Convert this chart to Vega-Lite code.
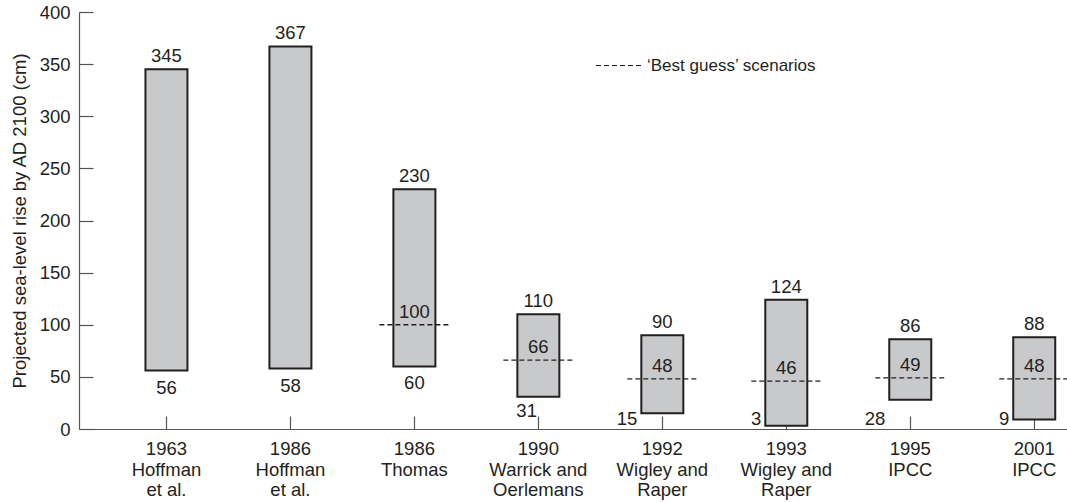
{
  "$schema": "https://vega.github.io/schema/vega-lite/v6.json",
  "width": 988,
  "height": 417,
  "autosize": {"type": "none"},
  "padding": {"left": 79, "top": 12, "right": 0, "bottom": 73},
  "background": "white",
  "config": {
    "view": {"stroke": null},
    "font": "Liberation Sans",
    "text": {"font": "Liberation Sans", "color": "#231f20"}
  },
  "data": {
    "values": [
      {"i": 1, "study": "1963|Hoffman|et al.", "lo": 56, "hi": 345, "best": null},
      {"i": 2, "study": "1986|Hoffman|et al.", "lo": 58, "hi": 367, "best": null},
      {"i": 3, "study": "1986|Thomas", "lo": 60, "hi": 230, "best": 100},
      {"i": 4, "study": "1990|Warrick and|Oerlemans", "lo": 31, "hi": 110, "best": 66},
      {"i": 5, "study": "1992|Wigley and|Raper", "lo": 15, "hi": 90, "best": 48},
      {"i": 6, "study": "1993|Wigley and|Raper", "lo": 3, "hi": 124, "best": 46},
      {"i": 7, "study": "1995|IPCC", "lo": 28, "hi": 86, "best": 49},
      {"i": 8, "study": "2001|IPCC", "lo": 9, "hi": 88, "best": 48}
    ]
  },
  "encoding": {
    "x": {
      "field": "i",
      "type": "quantitative",
      "scale": {"domain": [0.3349, 8.224], "nice": false, "zero": false},
      "axis": {
        "values": [1, 2, 3, 4, 5, 6, 7, 8],
        "labels": false,
        "title": null,
        "grid": false,
        "tickSize": -13,
        "tickColor": "#555555",
        "tickWidth": 1.2,
        "domainColor": "#555555",
        "domainWidth": 1.2
      }
    }
  },
  "layer": [
    {
      "mark": {"type": "bar", "orient": "vertical", "width": 42, "fill": "#c8c9cb", "stroke": "#231f20", "strokeWidth": 2},
      "encoding": {
        "y": {
          "field": "lo",
          "type": "quantitative",
          "scale": {"domain": [0, 400], "nice": false},
          "axis": {
            "values": [0, 50, 100, 150, 200, 250, 300, 350, 400],
            "grid": false,
            "tickSize": -14,
            "tickColor": "#555555",
            "tickWidth": 1.2,
            "domainColor": "#555555",
            "domainWidth": 1.2,
            "labelPadding": 23,
            "labelFlush": false,
            "labelFontSize": 18.5,
            "labelFont": "Liberation Sans",
            "labelColor": "#231f20",
            "title": "Projected sea-level rise by AD 2100 (cm)",
            "titleFont": "Liberation Sans",
            "titleFontSize": 18.5,
            "titleFontWeight": "normal",
            "titleColor": "#231f20",
            "titlePadding": 10
          }
        },
        "y2": {"field": "hi"}
      }
    },
    {
      "transform": [{"filter": "datum.best != null"}],
      "mark": {"type": "rule", "color": "#231f20", "strokeWidth": 1.3, "xOffset": -35, "x2Offset": 35},
      "encoding": {
        "y": {"field": "best", "type": "quantitative"},
        "x2": {"field": "i"},
        "strokeDash": {
          "datum": "‘Best guess’ scenarios",
          "type": "nominal",
          "scale": {"domain": ["‘Best guess’ scenarios"], "range": [[5, 3]]},
          "legend": {
            "orient": "none",
            "legendX": 516,
            "legendY": 30,
            "title": null,
            "padding": 0,
            "symbolType": "stroke",
            "symbolSize": 2025,
            "symbolStrokeWidth": 1.2,
            "symbolStrokeColor": "#231f20",
            "labelFont": "Liberation Sans",
            "labelFontSize": 17,
            "labelColor": "#231f20",
            "labelOffset": 5,
            "labelLimit": 400
          }
        }
      }
    },
    {
      "mark": {"type": "text", "fontSize": 18.5, "dy": -7, "baseline": "alphabetic"},
      "encoding": {"y": {"field": "hi", "type": "quantitative"}, "text": {"field": "hi"}}
    },
    {
      "transform": [{"filter": "datum.best != null"}],
      "mark": {"type": "text", "fontSize": 18.5, "dy": -7, "baseline": "alphabetic"},
      "encoding": {"y": {"field": "best", "type": "quantitative"}, "text": {"field": "best"}}
    },
    {
      "transform": [{"filter": "datum.i <= 3"}],
      "mark": {"type": "text", "fontSize": 18.5, "dy": 23, "baseline": "alphabetic"},
      "encoding": {"y": {"field": "lo", "type": "quantitative"}, "text": {"field": "lo"}}
    },
    {
      "transform": [{"filter": "datum.i == 4"}],
      "mark": {"type": "text", "fontSize": 18.5, "dy": 20, "baseline": "alphabetic", "align": "left", "xOffset": -22},
      "encoding": {"y": {"field": "lo", "type": "quantitative"}, "text": {"field": "lo"}}
    },
    {
      "transform": [{"filter": "datum.i >= 5"}],
      "mark": {"type": "text", "fontSize": 18.5, "dy": -4, "baseline": "alphabetic", "align": "right", "xOffset": -25},
      "encoding": {"y": {"datum": 0}, "text": {"field": "lo"}}
    },
    {
      "mark": {"type": "text", "fontSize": 18.5, "dy": 26, "baseline": "alphabetic", "lineBreak": "|", "lineHeight": 20.5},
      "encoding": {"y": {"datum": 0}, "text": {"field": "study"}}
    }
  ]
}
